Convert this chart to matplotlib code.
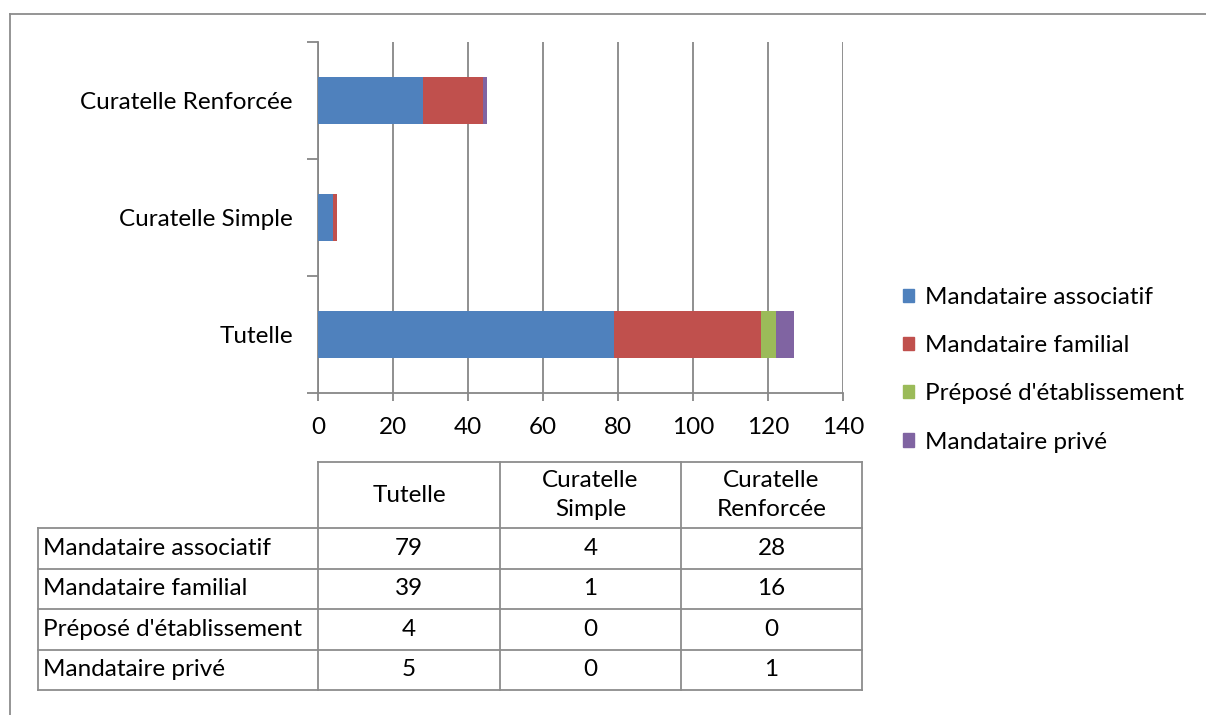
import matplotlib
matplotlib.use("Agg")
import matplotlib.pyplot as plt
from matplotlib.lines import Line2D
from matplotlib.patches import Rectangle

plt.rcParams['font.family'] = ['Lato', 'DejaVu Sans']

# Data
categories = ["Tutelle", "Curatelle Simple", "Curatelle Renforcée"]
header_labels = ["Tutelle", "Curatelle\nSimple", "Curatelle\nRenforcée"]
series_names = ["Mandataire associatif", "Mandataire familial",
                "Préposé d'établissement", "Mandataire privé"]
associatif = [79, 4, 28]
familial = [39, 1, 16]
prepose = [4, 0, 0]
prive = [5, 0, 1]
series_values = [associatif, familial, prepose, prive]
colors = ["#4F81BD", "#C0504D", "#9BBB59", "#8064A2"]
xticks = [0, 20, 40, 60, 80, 100, 120, 140]

W, H = 1206, 715
FS = 17.5
GRID = "#878787"

fig = plt.figure(figsize=(W / 100, H / 100), dpi=100)


def fx(px):
    return px / W


def fy(py):
    return 1 - py / H


# Outer frame (top and left edges)
fig.add_artist(Line2D([fx(9.5), fx(1206)], [fy(13.5), fy(13.5)], color="#8c8c8c", lw=1.3))
fig.add_artist(Line2D([fx(9.5), fx(9.5)], [fy(13.5), fy(715)], color="#8c8c8c", lw=1.3))

# Stacked bar chart
ax = fig.add_axes([fx(318), fy(393), fx(843) - fx(318), fy(42) - fy(393)])
ypos = list(range(len(categories)))
left = [0] * len(categories)
for name, vals, col in zip(series_names, series_values, colors):
    ax.barh(ypos, vals, left=left, height=0.4, color=col, label=name,
            edgecolor="none", zorder=3)
    left = [a + b for a, b in zip(left, vals)]

ax.set_xlim(0, 140)
ax.set_ylim(-0.5, len(categories) - 0.5)
ax.set_xticks(xticks)
ax.set_xticklabels([str(t) for t in xticks], fontsize=FS)
ax.set_yticks(ypos)
ax.set_yticklabels(categories, fontsize=FS)
ax.set_yticks([i - 0.5 for i in range(len(categories) + 1)], minor=True)
ax.tick_params(axis="y", which="major", length=0, pad=18)
ax.tick_params(axis="y", which="minor", length=8, color=GRID, width=1.3, direction="out")
ax.tick_params(axis="x", length=6, color=GRID, width=1.3, direction="out", pad=11)
ax.grid(axis="x", color=GRID, lw=1.3, zorder=0)
for s in ("top", "right"):
    ax.spines[s].set_visible(False)
for s in ("left", "bottom"):
    ax.spines[s].set_color(GRID)
    ax.spines[s].set_linewidth(1.3)

# Legend
handles = [Rectangle((0, 0), 1, 1, color=c) for c in colors]
fig.legend(handles, series_names, loc="upper left",
           bbox_to_anchor=(fx(903), fy(287)), frameon=False, fontsize=FS,
           handlelength=0.47, handleheight=0.47, handletextpad=0.45,
           labelspacing=1.12, borderaxespad=0, borderpad=0)

# Data table below the chart
col_x = [38, 318, 500, 681, 862]
head_top, head_bot = 462, 528
row_h = 40.5
n_rows = len(series_names)
tbl_bot = head_bot + n_rows * row_h
lc = "#8c8c8c"
lw = 1.3

# header box
fig.add_artist(Line2D([fx(col_x[1]), fx(col_x[-1])], [fy(head_top)] * 2, color=lc, lw=lw))
for x in col_x[1:]:
    fig.add_artist(Line2D([fx(x)] * 2, [fy(head_top), fy(tbl_bot)], color=lc, lw=lw))
fig.add_artist(Line2D([fx(col_x[0])] * 2, [fy(head_bot), fy(tbl_bot)], color=lc, lw=lw))
for i in range(n_rows + 1):
    y = head_bot + i * row_h
    fig.add_artist(Line2D([fx(col_x[0]), fx(col_x[-1])], [fy(y)] * 2, color=lc, lw=lw))

for j, lab in enumerate(header_labels):
    cx = (col_x[j + 1] + col_x[j + 2]) / 2
    fig.text(fx(cx), fy((head_top + head_bot) / 2), lab, ha="center", va="center",
             fontsize=FS, linespacing=1.44)

for i, (name, vals) in enumerate(zip(series_names, series_values)):
    cy = head_bot + (i + 0.5) * row_h
    fig.text(fx(col_x[0] + 5), fy(cy), name, ha="left", va="center", fontsize=FS)
    for j, v in enumerate(vals):
        cx = (col_x[j + 1] + col_x[j + 2]) / 2
        fig.text(fx(cx), fy(cy), str(v), ha="center", va="center", fontsize=FS)

fig.savefig("out.png", dpi=100, facecolor="white")
